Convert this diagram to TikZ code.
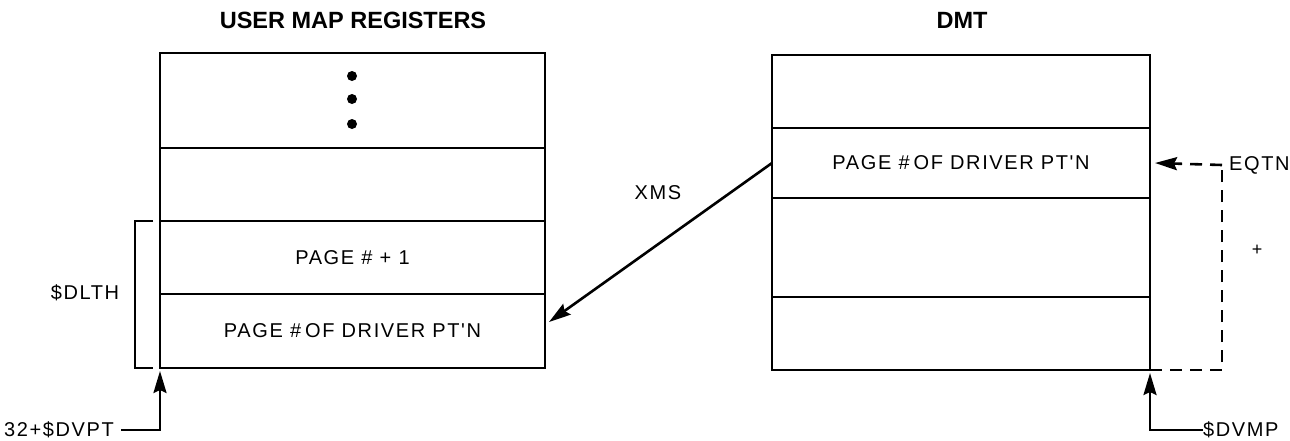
\documentclass[tikz,border=0pt]{standalone}
\usepackage{fontspec}
\setmainfont{Liberation Sans}
\newfontfamily\lblfont[LetterSpace=8]{Liberation Sans}
\usetikzlibrary{arrows.meta,calc}
\tikzset{
  cell/.style={draw, line width=2.6pt, rectangle, inner sep=0pt, outer sep=0pt, font=\lblfont\fontsize{20}{22}\selectfont},
  title/.style={font=\bfseries\fontsize{23.5}{26}\selectfont, inner sep=0pt},
  lbl/.style={font=\lblfont\fontsize{20}{22}\selectfont, inner sep=0pt},
  wire/.style={line width=2.6pt},
  arr/.style={wire, -{Stealth[length=22pt,width=13pt,inset=3pt]}},
  dashwire/.style={line width=2.6pt, dash pattern=on 12pt off 8pt},
  dot/.style={circle, fill, inner sep=0pt, minimum size=10pt}
}
\begin{document}
\begin{tikzpicture}[x=1pt,y=-1pt]
\useasboundingbox (0,0) rectangle (1290,440);

% titles
\node[title] (t1) at (353,20) {USER MAP REGISTERS};
\node[title] (t2) at (962,20) {DMT};

% user map registers
\node[cell, minimum width=385pt, minimum height=95pt] (L1) at (352.5,100.5) {};
\node[cell, minimum width=385pt, minimum height=73pt] (L2) at (352.5,184.5) {};
\node[cell, minimum width=385pt, minimum height=73pt] (L3) at (352.5,257.5) {PAGE \# + 1};
\node[cell, minimum width=385pt, minimum height=74pt] (L4) at (352.5,331) {PAGE \#\hspace{0.2em}OF DRIVER PT'N};
\node[dot] (d1) at (352,76) {};
\node[dot] (d2) at (352,99) {};
\node[dot] (d3) at (352,124) {};

% DMT
\node[cell, minimum width=378pt, minimum height=73pt] (R1) at (961,91.5) {};
\node[cell, minimum width=378pt, minimum height=70pt] (R2) at (961,163) {PAGE \#\hspace{0.2em}OF DRIVER PT'N};
\node[cell, minimum width=378pt, minimum height=99pt] (R3) at (961,247.5) {};
\node[cell, minimum width=378pt, minimum height=73pt] (R4) at (961,333.5) {};

% $DLTH bracket
\coordinate (b1) at (153,221);
\coordinate (b2) at (135,221);
\coordinate (b3) at (135,368);
\coordinate (b4) at (153,368);
\draw[wire] (b1) -- (b2) -- (b3) -- (b4);
\node[lbl] (dlth) at (85,293) {\$DLTH};

% XMS transfer
\draw[arr] (R2.west) -- ([xshift=4pt,yshift=9pt]L4.east);
\node[lbl] (xms) at (658,193) {XMS};

% EQTN offset
\coordinate (eq) at (1222,165);
\node[lbl, anchor=west] (eqtn) at (1229,165) {EQTN};
\draw[dashwire] (R4.south east) -| (eq);
\draw[dashwire, -{Stealth[length=22pt,width=13pt,inset=3pt]}] (eq) -- ([xshift=5pt]R2.east);
\node[font=\fontsize{18}{20}\selectfont, inner sep=0pt] (plus) at (1257,250) {+};

% base pointers
\node[lbl, anchor=east] (dvpt) at (114,430) {32+\$DVPT};
\draw[arr] (dvpt.east) ++(7,0) -| ([yshift=-3pt]L4.south west);
\node[lbl, anchor=west] (dvmp) at (1203,430) {\$DVMP};
\draw[arr] (dvmp.west) -| ([yshift=-3pt]R4.south east);
\end{tikzpicture}
\end{document}
